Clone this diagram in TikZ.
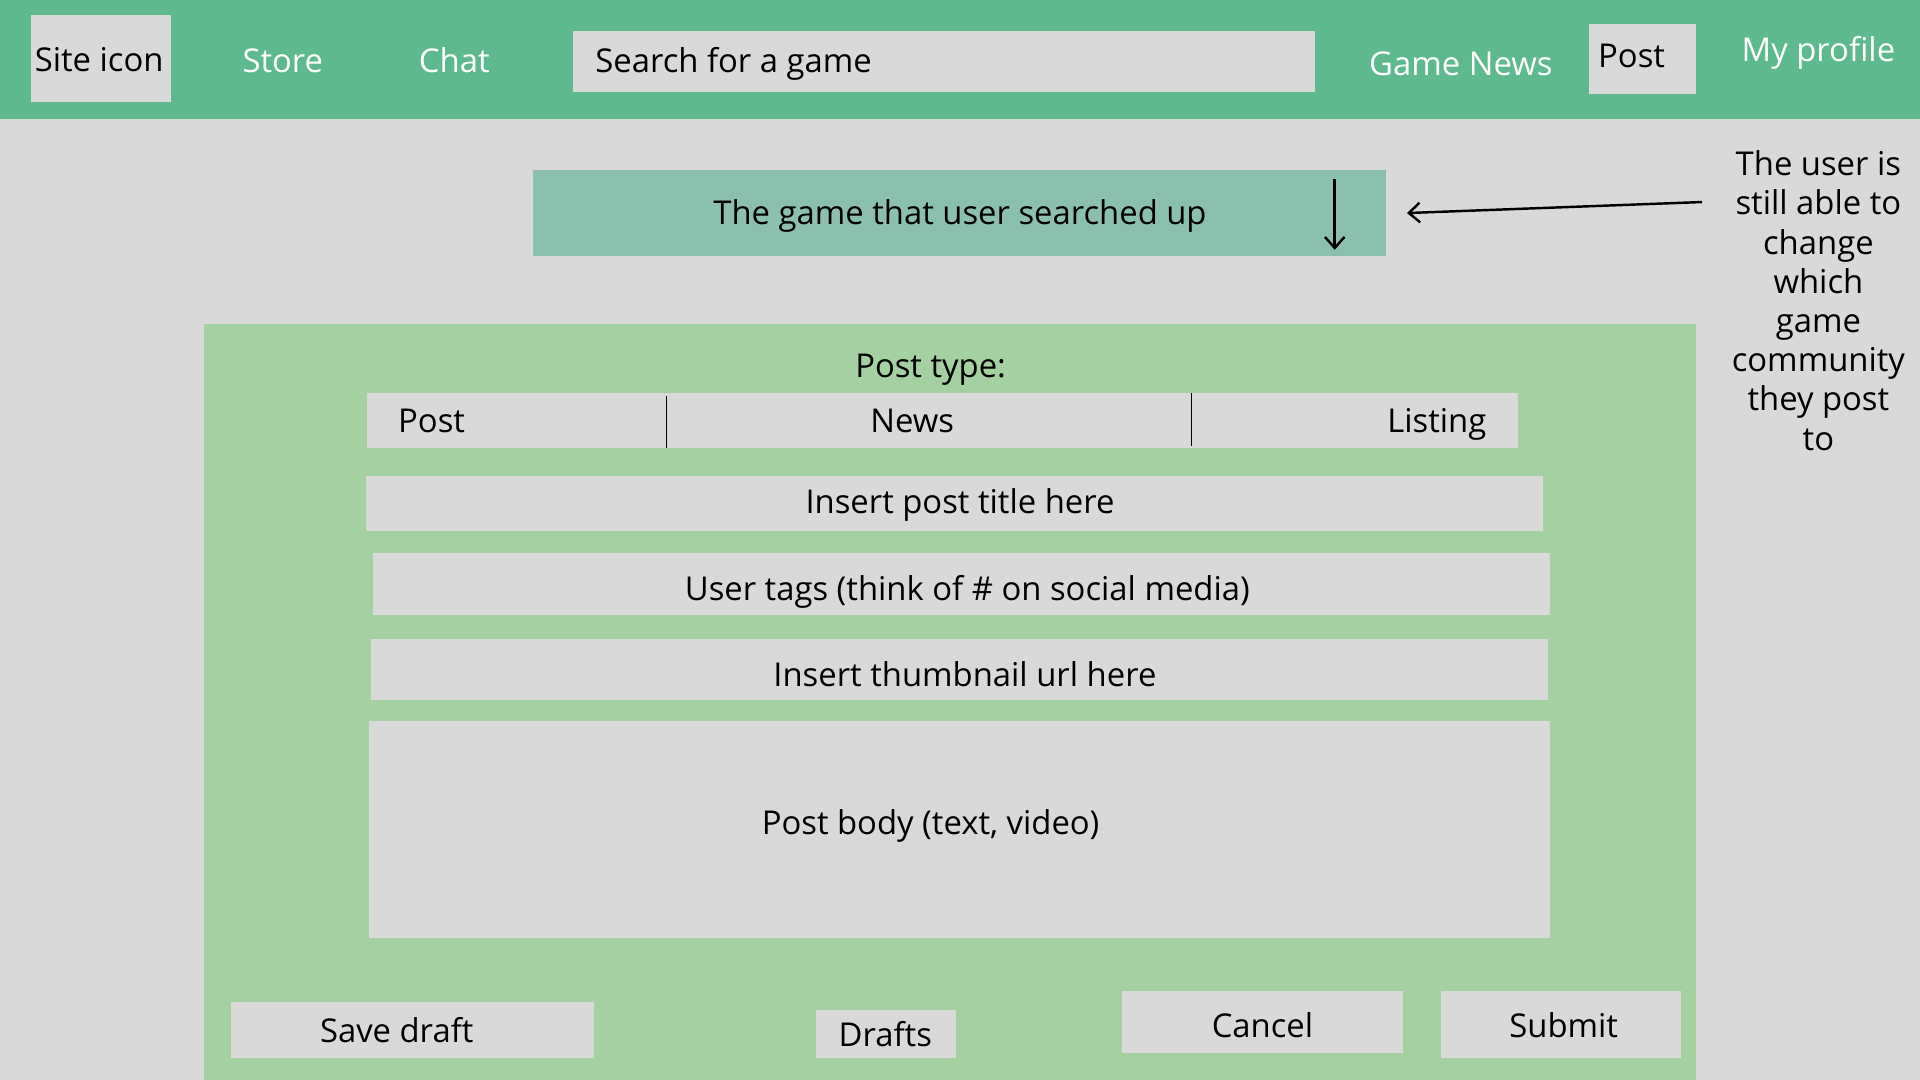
\documentclass[tikz,border=0pt]{standalone}
\usepackage{fontspec}
\setmainfont{Open Sans}
\usetikzlibrary{arrows.meta}
\definecolor{bg}{HTML}{D9D9D9}
\definecolor{topbar}{HTML}{5EBA8E}
\definecolor{gamebar}{HTML}{8CC0AE}
\definecolor{panel}{HTML}{A5D0A1}
\begin{document}
\begin{tikzpicture}[x=1pt,y=-1pt,
  box/.style={fill=bg, draw=none, inner sep=0pt},
  lbl/.style={inner sep=0pt, text=black, font=\fontsize{26.8}{32}\selectfont, text height=19pt, text depth=0pt},
  wlbl/.style={lbl, text=white},
  notestyle/.style={inner sep=0pt, text=black, font=\fontsize{26.8}{32}\selectfont, align=center},
  arr/.style={-{Straight Barb[length=9pt,width=16pt]}, line width=2pt, black},
  divider/.style={draw=black, line width=0.8pt}]
\useasboundingbox (0,0) rectangle (1568,882);
\fill[bg] (0,0) rectangle (1568,882);
% top bar
\fill[topbar] (0,0) rectangle (1568,97);
\node[box, minimum width=115pt, minimum height=71pt] (site) at (82.5,47.5) {};
\node[lbl] (sitet) at (81,49) {Site icon};
\node[wlbl] (store) at (231,50) {Store};
\node[wlbl] (chat) at (371,50) {Chat};
\node[box, minimum width=606pt, minimum height=50pt] (search) at (771,50) {};
\node[lbl, anchor=west] (searcht) at (486,50) {Search for a game};
\node[wlbl] (news) at (1193,52) {Game News};
\node[box, minimum width=87pt, minimum height=57pt] (postbtn) at (1341.5,48.5) {};
\node[lbl, anchor=west] (postbtnt) at (1305,46) {Post};
\node[wlbl] (profile) at (1485,41) {My profile};
% game selector
\node[fill=gamebar, inner sep=0pt, minimum width=697pt, minimum height=70pt] (game) at (783.5,174) {};
\node[lbl] (gamet) at (784,174) {The game that user searched up};
\coordinate (dropS) at (1090,146);
\coordinate (dropE) at (1090,204);
\draw[arr] (dropS) -- (dropE);
% annotation
\node[notestyle, anchor=north] (note) at (1485,123) {The user is\\still able to\\change\\which\\game\\community\\they post\\to};
\coordinate (noteS) at (1390,165);
\coordinate (noteE) at (1149,174);
\draw[arr] (noteS) -- (noteE);
% panel
\fill[panel] (167,265) rectangle (1385,882);
\node[lbl] (ptype) at (760,299) {Post type:};
\node[box, minimum width=940pt, minimum height=45pt] (typebar) at (770,343.5) {};
\draw[divider] (544,323) -- (544,366);
\draw[divider] (973,321) -- (973,364);
\node[lbl, anchor=west] (tpost) at (325,344) {Post};
\node[lbl] (tnews) at (745,344) {News};
\node[lbl, anchor=east] (tlist) at (1214,344) {Listing};
\node[box, minimum width=961pt, minimum height=45pt] (title) at (779.5,411.5) {};
\node[lbl] (titlet) at (784,410) {Insert post title here};
\node[box, minimum width=961pt, minimum height=50pt] (tags) at (785.5,477) {};
\node[lbl] (tagst) at (790,481) {User tags (think of \# on social media)};
\node[box, minimum width=961pt, minimum height=50pt] (thumb) at (783.5,547) {};
\node[lbl] (thumbt) at (788,551) {Insert thumbnail url here};
\node[box, minimum width=965pt, minimum height=177pt] (body) at (783.5,677.5) {};
\node[lbl] (bodyt) at (760,672) {Post body (text, video)};
% buttons
\node[box, minimum width=296pt, minimum height=46pt] (save) at (337,841) {};
\node[lbl] (savet) at (324,842) {Save draft};
\node[box, minimum width=115pt, minimum height=39pt] (drafts) at (723.5,844.5) {};
\node[lbl] (draftst) at (723,845) {Drafts};
\node[box, minimum width=230pt, minimum height=51pt] (cancel) at (1031,834.5) {};
\node[lbl] (cancelt) at (1031,838) {Cancel};
\node[box, minimum width=196pt, minimum height=55pt] (submit) at (1275,836.5) {};
\node[lbl] (submitt) at (1277,838) {Submit};
\end{tikzpicture}
\end{document}
